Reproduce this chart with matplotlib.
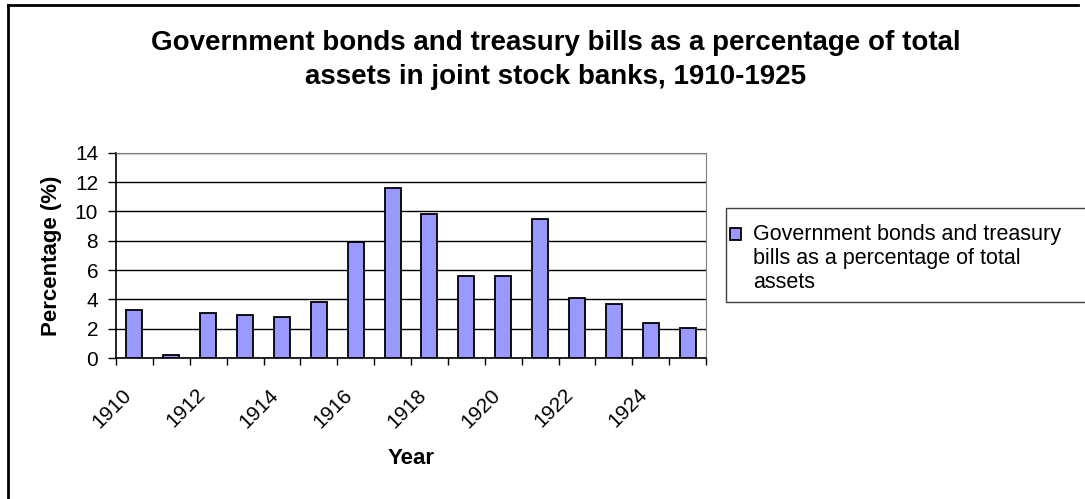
import matplotlib
matplotlib.use("Agg")
import numpy as np
import matplotlib.pyplot as plt
import matplotlib.transforms as mtransforms
from matplotlib.lines import Line2D
from matplotlib.patches import Rectangle
from matplotlib.legend_handler import HandlerPatch

plt.rcParams["font.family"] = ["Liberation Sans", "DejaVu Sans"]

# ---------- data ------------------------------------------------------------
YEARS = list(range(1910, 1926))
SHARE = [3.3, 0.2, 3.05, 2.9, 2.8, 3.8, 7.9, 11.6, 9.8, 5.6, 5.6, 9.5,
         4.1, 3.7, 2.4, 2.05]
Y_TICKS = [0, 2, 4, 6, 8, 10, 12, 14]
SERIES_LABEL = ("Government bonds and treasury\n"
                "bills as a percentage of total\nassets")
TITLE = ("Government bonds and treasury bills as a percentage of total\n"
         "assets in joint stock banks, 1910-1925")

W, H = 1085, 499
fig = plt.figure(figsize=(W / 100, H / 100), dpi=100)
ax = fig.add_axes([116 / W, 1 - 358 / H, 590 / W, 205.3 / H])

x = np.arange(len(YEARS))
bars = ax.bar(x, SHARE, width=0.434, color="#9999FF", edgecolor="black",
              linewidth=1.3, zorder=3)

ax.set_xlim(-0.5, len(YEARS) - 0.5)
ax.set_ylim(0, 14)
ax.set_yticks(Y_TICKS)
ax.yaxis.grid(True, color="black", linewidth=1)
ax.set_axisbelow(True)

# category axis: ticks on the boundaries, labels every second year
ax.set_xticks(x[::2])
ax.set_xticklabels([str(y) for y in YEARS[::2]], rotation=45, ha="right",
                   va="top", rotation_mode="anchor")
ax.set_xticks(np.arange(-0.5, len(YEARS)), minor=True)
ax.tick_params(axis="x", which="major", length=0, pad=19.5, labelsize=15)
ax.tick_params(axis="x", which="minor", length=5, width=1, color="black")
ax.tick_params(axis="y", length=5.8, width=1, pad=7, labelsize=15)
shift = mtransforms.ScaledTranslation(-13 / 100, 0, fig.dpi_scale_trans)
for lab in ax.get_xticklabels():
    lab.set_transform(lab.get_transform() + shift)

for side in ("top", "right"):
    ax.spines[side].set_color("#808080")
for side in ("left", "bottom"):
    ax.spines[side].set_color("black")
    ax.spines[side].set_linewidth(1.2)

ax.set_xlabel("Year", fontsize=16, fontweight="bold")
ax.xaxis.set_label_coords(0.5, -0.44)
ax.set_ylabel("Percentage (%)", fontsize=16, fontweight="bold")
ax.yaxis.set_label_coords(-0.092, 0.5)

fig.text(556 / W, 1 - 60 / H, TITLE, ha="center", va="center",
         fontsize=20, fontweight="bold", linespacing=1.42)


# legend: square key next to the first line of the wrapped label
def square_key(legend, orig_handle, xdescent, ydescent, width, height,
               fontsize):
    return Rectangle((-xdescent, -ydescent + 1.16 * fontsize), width, height)


leg = fig.legend([bars.patches[0]], [SERIES_LABEL], loc="upper left",
                 bbox_to_anchor=(730 / W, 1 - 224 / H), borderaxespad=0,
                 borderpad=0, fontsize=15.5, frameon=False,
                 handlelength=0.5, handleheight=0.5, handletextpad=0.56,
                 handler_map={Rectangle: HandlerPatch(patch_func=square_key)})
fig.patches.append(Rectangle((726 / W, 1 - 302 / H), 400 / W, 94 / H,
                             transform=fig.transFigure, fill=False,
                             edgecolor="#404040", linewidth=1))

# chart area border (right and bottom fall outside the picture)
fig.add_artist(Line2D([8 / W, 1078 / W], [1 - 5 / H, 1 - 5 / H],
                      color="black", linewidth=2))
fig.add_artist(Line2D([8 / W, 8 / W], [1 - 5 / H, 0], color="black",
                      linewidth=2))

fig.savefig("out.png", dpi=100)
